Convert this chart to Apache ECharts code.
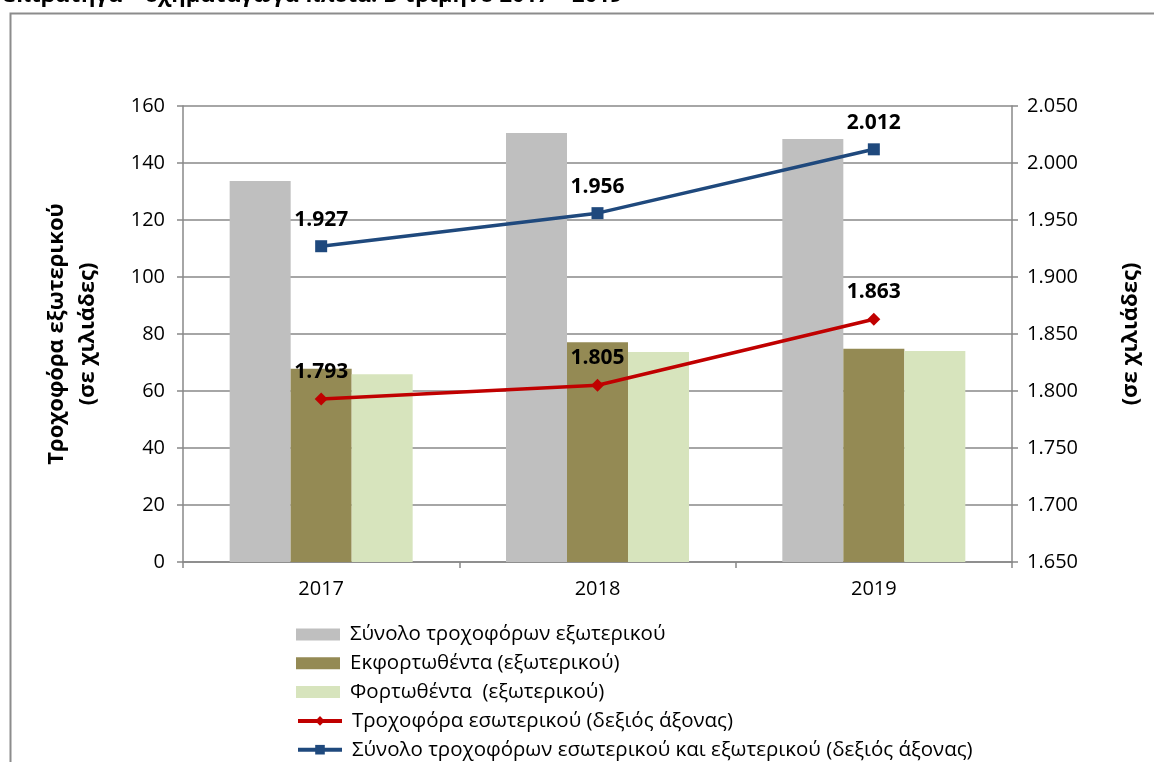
<!DOCTYPE html>
<html>
<head>
<meta charset="utf-8">
<script src="https://cdn.jsdelivr.net/npm/echarts@6/dist/echarts.min.js"></script>
<style>
  html, body { margin: 0; padding: 0; background: #fff; }
  #chart { width: 1154px; height: 762px; }
</style>
</head>
<body>
<div id="chart"></div>
<script>
// Τροχοφόρα εξωτερικού / εσωτερικού, Β΄ τρίμηνο 2017-2019

const years = ['2017', '2018', '2019'];

// αριστερός άξονας (χιλιάδες)
const totalForeign = [133.7, 150.5, 148.4];
const unloadedForeign = [67.8, 77.1, 74.8];
const loadedForeign = [65.9, 73.7, 74.0];

// δεξιός άξονας (χιλιάδες)
const domestic = [1793, 1805, 1863];
const totalAll = [1927, 1956, 2012];

const seriesNames = [
    'Σύνολο τροχοφόρων εξωτερικού',
    'Εκφορτωθέντα (εξωτερικού)',
    'Φορτωθέντα  (εξωτερικού)',
    'Τροχοφόρα εσωτερικού (δεξιός άξονας)',
    'Σύνολο τροχοφόρων εσωτερικού και εξωτερικού (δεξιός άξονας)'
];

const FONT = 'Open Sans';
const gridColor = '#888888';

// 1927 -> "1.927"
function withDot(v) {
    return String(v).replace(/\B(?=(\d{3})+(?!\d))/g, '.');
}

const chart = echarts.init(document.getElementById('chart'));

const lineLabel = {
    show: true,
    position: 'top',
    distance: 10,
    fontFamily: FONT,
    fontSize: 21,
    fontWeight: 'bold',
    color: '#000',
    formatter: p => withDot(p.value)
};

// ένα legend ανά γραμμή, για να μη σπάει σε δεύτερη στήλη
const legends = seriesNames.map((n, i) => ({
    orient: 'vertical',
    left: 296,
    top: 624 + i * 28.8,
    padding: 0,
    itemWidth: 44,
    itemHeight: 12,
    itemGap: 0,
    textStyle: { fontFamily: FONT, fontSize: 20.5, color: '#000', padding: [0, 0, 0, 5] },
    data: [i < 3 ? { name: n, icon: 'rect' } : { name: n, lineStyle: { width: 4 } }]
}));

const option = {
    animation: false,
    backgroundColor: '#fff',
    textStyle: { fontFamily: FONT },
    title: {
        text: 'επιβατηγά – οχηματαγωγά πλοία: Β΄ τρίμηνο 2017 – 2019',
        left: -2,
        top: -20,
        textStyle: { fontFamily: FONT, fontSize: 22, fontWeight: 'bold', color: '#000' }
    },
    graphic: [{
        type: 'rect',
        shape: { x: 10.5, y: 13.5, width: 1200, height: 800 },
        style: { fill: 'none', stroke: '#8c8c8c', lineWidth: 2 },
        silent: true
    }],
    grid: { left: 183, right: 142, top: 106, bottom: 200 },
    legend: legends,
    xAxis: {
        type: 'category',
        data: years,
        axisLine: { lineStyle: { color: gridColor, width: 1.5 } },
        axisTick: { show: true, length: 6, lineStyle: { color: gridColor, width: 1.5 } },
        axisLabel: { fontFamily: FONT, fontSize: 20, color: '#000', margin: 17 }
    },
    yAxis: [{
        type: 'value',
        min: 0,
        max: 160,
        interval: 20,
        name: 'Τροχοφόρα εξωτερικού\n(σε χιλιάδες)',
        nameLocation: 'middle',
        nameRotate: 90,
        nameGap: 80,
        nameTextStyle: { fontFamily: FONT, fontSize: 22, fontWeight: 'bold', color: '#000', lineHeight: 31 },
        axisLine: { show: true, lineStyle: { color: gridColor, width: 1.5 } },
        axisTick: { show: true, length: 6, lineStyle: { color: gridColor, width: 1.5 } },
        axisLabel: { fontFamily: FONT, fontSize: 20, color: '#000', margin: 18 },
        splitLine: { lineStyle: { color: gridColor, width: 1.5 } }
    }, {
        type: 'value',
        min: 1650,
        max: 2050,
        interval: 50,
        position: 'right',
        name: '(σε χιλιάδες)',
        nameLocation: 'middle',
        nameRotate: 90,
        nameGap: 108,
        nameTextStyle: { fontFamily: FONT, fontSize: 22, fontWeight: 'bold', color: '#000' },
        axisLine: { show: true, lineStyle: { color: gridColor, width: 1.5 } },
        axisTick: { show: true, length: 6, lineStyle: { color: gridColor, width: 1.5 } },
        axisLabel: { fontFamily: FONT, fontSize: 20, color: '#000', margin: 15, formatter: v => withDot(v) },
        splitLine: { show: false }
    }],
    series: [{
        name: seriesNames[0],
        type: 'bar',
        data: totalForeign,
        barWidth: 61,
        barGap: '0%',
        itemStyle: { color: '#bfbfbf' }
    }, {
        name: seriesNames[1],
        type: 'bar',
        data: unloadedForeign,
        barWidth: 61,
        barGap: '0%',
        itemStyle: { color: '#948a54' }
    }, {
        name: seriesNames[2],
        type: 'bar',
        data: loadedForeign,
        barWidth: 61,
        barGap: '0%',
        itemStyle: { color: '#d7e4bd' }
    }, {
        name: seriesNames[3],
        type: 'line',
        yAxisIndex: 1,
        data: domestic,
        symbol: 'diamond',
        symbolSize: 13,
        lineStyle: { color: '#c00000', width: 3.5 },
        itemStyle: { color: '#c00000' },
        label: lineLabel,
        z: 5
    }, {
        name: seriesNames[4],
        type: 'line',
        yAxisIndex: 1,
        data: totalAll,
        symbol: 'rect',
        symbolSize: 12,
        lineStyle: { color: '#1f497d', width: 3.5 },
        itemStyle: { color: '#1f497d' },
        label: lineLabel,
        z: 5
    }]
};

option && chart.setOption(option);
</script>
</body>
</html>
